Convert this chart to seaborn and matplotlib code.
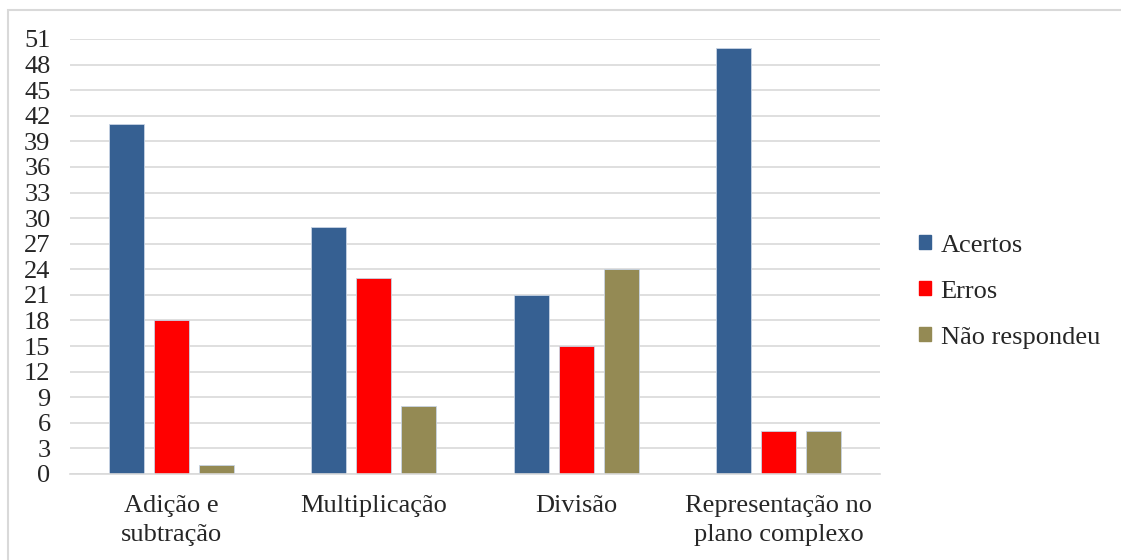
import matplotlib
matplotlib.use("Agg")
import matplotlib.pyplot as plt
import seaborn as sns
import pandas as pd
from matplotlib.patches import Patch, Rectangle

categories = ["Adição e\nsubtração", "Multiplicação", "Divisão", "Representação no\nplano complexo"]
series = ["Acertos", "Erros", "Não respondeu"]
acertos = [41, 29, 21, 50]
erros = [18, 23, 15, 5]
nao_respondeu = [1, 8, 24, 5]
colors = ["#366092", "#FF0000", "#948A54"]

rows = []
for s, vals in zip(series, [acertos, erros, nao_respondeu]):
    for c, v in zip(categories, vals):
        rows.append({"cat": c, "serie": s, "val": v})
df = pd.DataFrame(rows)

sns.set_theme(style="white")
plt.rcParams['font.family'] = ['Liberation Serif', 'DejaVu Serif']

fig = plt.figure(figsize=(11.21, 5.6), dpi=100)
ax = fig.add_axes([0.0624, 0.1536, 0.7226, 0.7768])
sns.barplot(data=df, x="cat", y="val", hue="serie", palette=colors, ax=ax,
            saturation=1, width=0.668, gap=0.22, edgecolor="#C8D4E4",
            linewidth=0.6, legend=False)

ax.set_ylim(0, 51)
ax.set_yticks(range(0, 52, 3))
ax.tick_params(axis='y', labelsize=19, length=0, pad=14)
ax.tick_params(axis='x', labelsize=19, length=0, pad=15)
ax.set_xlabel("")
ax.set_ylabel("")
ax.grid(axis='y', color="#D9D9D9", linewidth=1.2)
ax.set_axisbelow(True)
for sp in ["top", "right", "left"]:
    ax.spines[sp].set_visible(False)
ax.spines["bottom"].set_color("#D9D9D9")
ax.spines["bottom"].set_linewidth(1.2)
for lbl in ax.get_xticklabels():
    lbl.set_linespacing(1.45)

handles = [Patch(facecolor=c, edgecolor=c) for c in colors]
fig.legend(handles, series, loc="center left", bbox_to_anchor=(0.799, 0.479),
           frameon=False, fontsize=19, handlelength=0.45, handleheight=0.45,
           handletextpad=0.35, labelspacing=0.91)

fig.add_artist(Rectangle((0.007, -0.01), 1.0, 0.993, transform=fig.transFigure,
                         fill=False, edgecolor="#D9D9D9", linewidth=1.5))

fig.savefig("out.png", dpi=100)
